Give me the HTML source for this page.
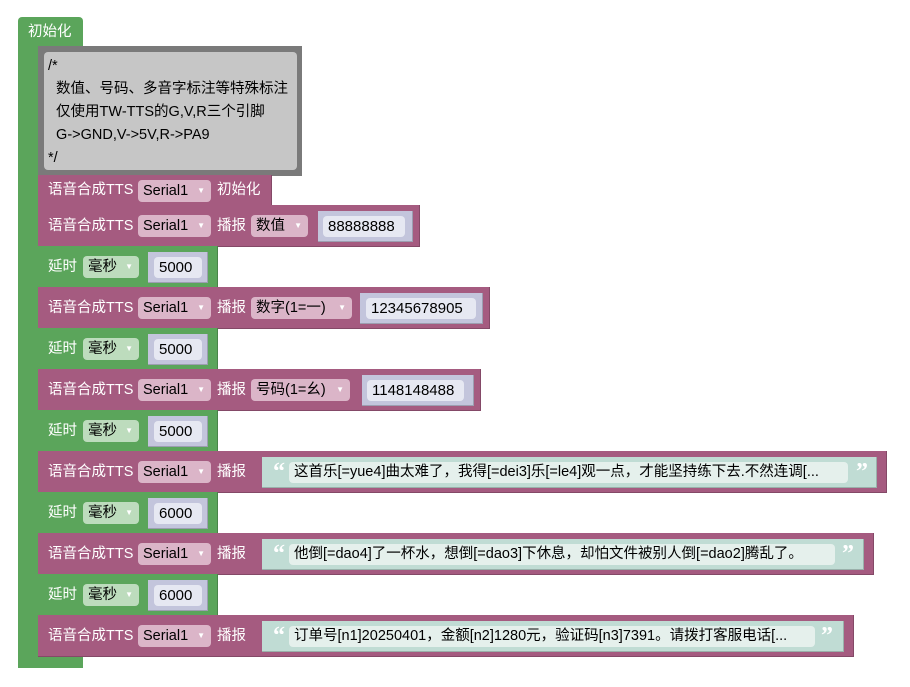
<!DOCTYPE html>
<html><head><meta charset="utf-8"><style>
body{margin:0;width:910px;height:687px;background:#fff;position:relative;overflow:hidden;font-family:"Liberation Sans","Noto Sans CJK SC",sans-serif;}
div{position:absolute;box-sizing:border-box;}
.g{background:#5ba55b;}
.p{background:#a55b80;border-bottom:1px solid #844967;border-right:1px solid #844967;}
.gr{background:#5ba55b;border-bottom:1px solid #498449;border-right:1px solid #498449;}
.t{color:#fff;font-size:14.5px;line-height:20px;white-space:nowrap;}
.dd{background:#dbb5c8;border-radius:4px;height:22px;font-size:14.5px;line-height:22px;color:#000;padding-left:5px;white-space:nowrap;}
.ddg{background:#bddcbd;border-radius:4px;height:22px;font-size:14.5px;line-height:22px;color:#000;padding-left:5px;white-space:nowrap;}
.ar{position:absolute;right:6px;top:0;font-size:8px;color:#fff;}
.vb{background:#c3c5dc;border-right:1px solid #9c9eb0;border-bottom:1px solid #9c9eb0;height:31px;}
.vf{background:#e6e8f2;border-radius:4px;height:21px;font-size:15px;line-height:21px;color:#000;padding-left:5px;white-space:nowrap;}
.sb{background:#c0dcd4;border-right:1px solid #9ab0aa;border-bottom:1px solid #9ab0aa;height:31px;}
.sf{background:#e5f0ec;border-radius:4px;height:21px;font-size:14.5px;line-height:21px;color:#000;padding-left:5px;white-space:nowrap;overflow:hidden;}
.q{color:#fff;font-size:24px;font-weight:bold;line-height:20px;font-family:"Liberation Serif",serif;}
</style></head><body>
<div class="g" style="left:18px;top:17px;width:65px;height:29px;border-radius:4px 4px 0 0;"></div>
<div class="t" style="left:28px;top:22px;">初始化</div>
<div class="g" style="left:18px;top:45px;width:20px;height:623px;"></div>
<div class="g" style="left:18px;top:656px;width:65px;height:12px;border-radius:0 0 0 4px;"></div>
<div style="left:38px;top:46px;width:264px;height:130px;background:#7a7a7a;"></div>
<div style="left:44px;top:52px;width:253px;height:118px;background:#c6c6c6;border-radius:4px;"></div>
<div style="left:48px;top:55px;font-size:14.5px;line-height:23px;color:#000;white-space:pre;">/*
  数值、号码、多音字标注等特殊标注
  仅使用TW-TTS的G,V,R三个引脚
  G-&gt;GND,V-&gt;5V,R-&gt;PA9
*/</div>

<div class="p" style="left:38px;top:175px;width:234px;height:31px;"></div>
<div class="t" style="left:48px;top:180px;">语音合成TTS</div>
<div class="dd" style="left:138px;top:180px;width:73px;">Serial1<span class="ar">▼</span></div>
<div class="t" style="left:217px;top:180px;">初始化</div>

<div class="p" style="left:38px;top:205px;width:382px;height:42px;"></div>
<div class="t" style="left:48px;top:216px;">语音合成TTS</div>
<div class="dd" style="left:138px;top:215px;width:73px;">Serial1<span class="ar">▼</span></div>
<div class="t" style="left:217px;top:216px;">播报</div>
<div class="dd" style="left:251px;top:215px;width:57px;">数值<span class="ar">▼</span></div>
<div class="vb" style="left:318px;top:211px;width:95px;"></div>
<div class="vf" style="left:323px;top:216px;width:82px;">88888888</div>

<div class="gr" style="left:38px;top:246px;width:180px;height:42px;"></div>
<div class="t" style="left:48px;top:257px;">延时</div>
<div class="ddg" style="left:83px;top:256px;width:56px;">毫秒<span class="ar">▼</span></div>
<div class="vb" style="left:148px;top:252px;width:60px;"></div>
<div class="vf" style="left:154px;top:257px;width:48px;">5000</div>

<div class="p" style="left:38px;top:287px;width:452px;height:42px;"></div>
<div class="t" style="left:48px;top:298px;">语音合成TTS</div>
<div class="dd" style="left:138px;top:297px;width:73px;">Serial1<span class="ar">▼</span></div>
<div class="t" style="left:217px;top:298px;">播报</div>
<div class="dd" style="left:251px;top:297px;width:101px;">数字(1=一)<span class="ar">▼</span></div>
<div class="vb" style="left:360px;top:293px;width:123px;"></div>
<div class="vf" style="left:366px;top:298px;width:110px;">12345678905</div>

<div class="gr" style="left:38px;top:328px;width:180px;height:42px;"></div>
<div class="t" style="left:48px;top:339px;">延时</div>
<div class="ddg" style="left:83px;top:338px;width:56px;">毫秒<span class="ar">▼</span></div>
<div class="vb" style="left:148px;top:334px;width:60px;"></div>
<div class="vf" style="left:154px;top:339px;width:48px;">5000</div>

<div class="p" style="left:38px;top:369px;width:443px;height:42px;"></div>
<div class="t" style="left:48px;top:380px;">语音合成TTS</div>
<div class="dd" style="left:138px;top:379px;width:73px;">Serial1<span class="ar">▼</span></div>
<div class="t" style="left:217px;top:380px;">播报</div>
<div class="dd" style="left:251px;top:379px;width:99px;">号码(1=幺)<span class="ar">▼</span></div>
<div class="vb" style="left:362px;top:375px;width:112px;"></div>
<div class="vf" style="left:367px;top:380px;width:97px;">1148148488</div>

<div class="gr" style="left:38px;top:410px;width:180px;height:42px;"></div>
<div class="t" style="left:48px;top:421px;">延时</div>
<div class="ddg" style="left:83px;top:420px;width:56px;">毫秒<span class="ar">▼</span></div>
<div class="vb" style="left:148px;top:416px;width:60px;"></div>
<div class="vf" style="left:154px;top:421px;width:48px;">5000</div>

<div class="p" style="left:38px;top:451px;width:849px;height:42px;"></div>
<div class="t" style="left:48px;top:462px;">语音合成TTS</div>
<div class="dd" style="left:138px;top:461px;width:73px;">Serial1<span class="ar">▼</span></div>
<div class="t" style="left:217px;top:462px;">播报</div>
<div class="sb" style="left:262px;top:457px;width:615px;"></div>
<div class="q" style="left:273px;top:462px;">“</div>
<div class="sf" style="left:289px;top:462px;width:559px;">这首乐[=yue4]曲太难了，我得[=dei3]乐[=le4]观一点，才能坚持练下去.不然连调[...</div>
<div class="q" style="left:856px;top:462px;">”</div>

<div class="gr" style="left:38px;top:492px;width:180px;height:42px;"></div>
<div class="t" style="left:48px;top:503px;">延时</div>
<div class="ddg" style="left:83px;top:502px;width:56px;">毫秒<span class="ar">▼</span></div>
<div class="vb" style="left:148px;top:498px;width:60px;"></div>
<div class="vf" style="left:154px;top:503px;width:48px;">6000</div>

<div class="p" style="left:38px;top:533px;width:836px;height:42px;"></div>
<div class="t" style="left:48px;top:544px;">语音合成TTS</div>
<div class="dd" style="left:138px;top:543px;width:73px;">Serial1<span class="ar">▼</span></div>
<div class="t" style="left:217px;top:544px;">播报</div>
<div class="sb" style="left:262px;top:539px;width:602px;"></div>
<div class="q" style="left:273px;top:544px;">“</div>
<div class="sf" style="left:289px;top:544px;width:546px;">他倒[=dao4]了一杯水，想倒[=dao3]下休息，却怕文件被别人倒[=dao2]腾乱了。</div>
<div class="q" style="left:842px;top:544px;">”</div>

<div class="gr" style="left:38px;top:574px;width:180px;height:42px;"></div>
<div class="t" style="left:48px;top:585px;">延时</div>
<div class="ddg" style="left:83px;top:584px;width:56px;">毫秒<span class="ar">▼</span></div>
<div class="vb" style="left:148px;top:580px;width:60px;"></div>
<div class="vf" style="left:154px;top:585px;width:48px;">6000</div>

<div class="p" style="left:38px;top:615px;width:816px;height:42px;"></div>
<div class="t" style="left:48px;top:626px;">语音合成TTS</div>
<div class="dd" style="left:138px;top:625px;width:73px;">Serial1<span class="ar">▼</span></div>
<div class="t" style="left:217px;top:626px;">播报</div>
<div class="sb" style="left:262px;top:621px;width:582px;"></div>
<div class="q" style="left:273px;top:626px;">“</div>
<div class="sf" style="left:289px;top:626px;width:526px;">订单号[n1]20250401，金额[n2]1280元，验证码[n3]7391。请拨打客服电话[...</div>
<div class="q" style="left:821px;top:626px;">”</div>
</body></html>
